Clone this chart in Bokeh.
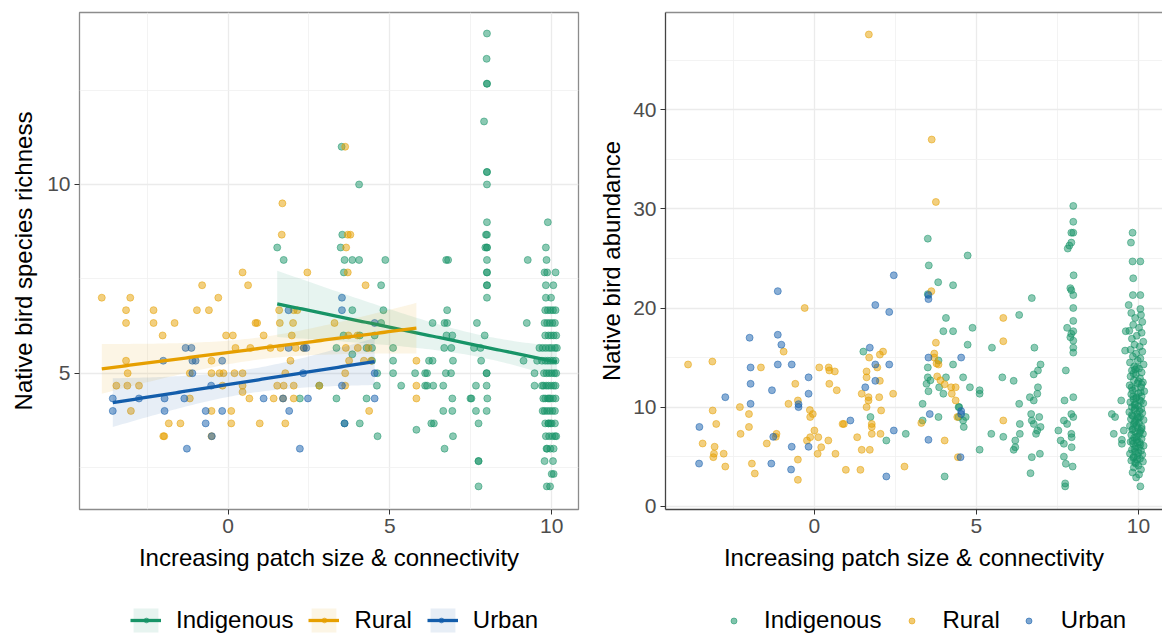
import numpy as np
from bokeh.plotting import figure
from bokeh.models import Legend, LegendItem, FixedTicker, LinearAxis, Range1d
from bokeh.layouts import row, column
from bokeh.embed import file_html
from bokeh.resources import INLINE

# ---------------- data ----------------
groups = ["Indigenous", "Rural", "Urban"]
colors = {"Indigenous": "#179467", "Rural": "#E69F00", "Urban": "#135DAB"}

x_ticks = [0, 5, 10]
x_minor = [-2.5, 2.5, 7.5]
rich_ticks = [5, 10]
rich_minor = [2.5, 7.5, 12.5]
abund_ticks = [0, 10, 20, 30, 40]
abund_minor = [5, 15, 25, 35, 45]

# Left panel: species richness
rich_ind_x = [4.05, 1.52, 1.72, 3.53, 3.48, 3.6, 3.84, 4.05, 4.86, 3.58, 4.73, 3.84, 4.8, 4.73, 3.57, 4.07, 4.53,
              3.35, 4.28, 4.45, 5.1, 3.84, 4.45, 5.1, 4.61, 5.1, 5.78, 6.09, 4.6, 5.35, 6.09, 2.22, 3.35, 4.28,
              2.82, 3.6, 4.07, 4.62, 5.82, 3.51, 6.74, 6.8, 9.26,
              8.0, 7.99, 8.0, 8.0, 7.91, 8.0, 8.0, 8.0, 8.0, 7.97, 8.0, 7.95, 8.0, 8.0, 8.0, 8.0, 8.0, 8.0, 8.0,
              8.0, 7.69, 7.93, 7.6, 7.8, 7.82, 7.99, 7.99, 7.66, 7.99, 7.52, 8.01, 7.66, 7.99, 7.74, 7.74, 7.74,
              7.74, 7.49,
              6.77, 6.32, 6.69, 6.77, 9.23, 6.75, 6.93, 6.68, 6.9, 6.21, 6.32, 6.95, 9.13, 6.15, 6.73, 6.89,
              9.47, 6.15, 6.34, 6.65, 9.47, 6.93, 6.65, 6.93, 6.28, 6.36, 6.95, 6.69,
              9.88, 9.82, 9.84, 9.78, 9.86, 10.12, 9.82, 10.05, 9.82, 9.98,
              9.8, 9.88, 9.96, 10.04, 10.12, 9.78, 9.86, 9.94, 10.02, 10.1, 9.8, 9.9, 9.98, 10.06, 10.14,
              9.62, 9.72, 9.82, 9.92, 10.0, 10.1, 10.16, 9.55, 9.7, 9.8, 9.88, 9.96, 10.04, 10.12,
              9.76, 9.84, 9.92, 10.0, 10.08, 10.14, 9.75, 9.83, 9.9, 9.98, 10.06, 10.12,
              9.8, 9.88, 9.96, 10.04, 10.12, 9.78, 9.86, 9.94, 10.02, 10.1, 9.8, 9.9, 10.0, 10.1,
              9.82, 9.92, 10.02, 10.1, 9.86, 9.96, 10.06, 10.04, 10.06, 9.85, 9.95,
              9.7, 9.74, 9.72, 9.9, 9.84, 10.14, 9.78, 10.0, 9.92, 9.96]
rich_ind_y = [10.0, 8.33, 8.0, 8.67, 8.33, 8.0, 8.0, 8.0, 8.0, 7.67, 7.33, 6.67, 6.67, 6.33, 6.0, 6.0, 6.0,
              5.67, 5.67, 5.67, 5.67, 5.5, 5.33, 5.33, 5.0, 5.0, 5.0, 5.0, 4.67, 4.67, 4.67, 4.33, 4.33, 4.33,
              4.67, 3.67, 3.67, 3.33, 3.5, 11.0, 8.0, 8.0, 8.0,
              14.0, 13.33, 12.67, 12.67, 11.67, 10.33, 10.33, 10.0, 9.0, 8.67, 8.67, 8.33, 8.33, 8.33, 8.0, 7.67,
              7.67, 7.33, 7.33, 7.0, 6.33, 6.0, 5.67, 5.67, 5.33, 5.0, 5.0, 4.67, 4.67, 4.33, 4.33, 4.0, 4.0,
              3.67, 2.67, 2.67, 2.0, 4.33,
              6.67, 6.33, 6.33, 6.33, 6.33, 6.0, 6.0, 5.67, 5.67, 5.33, 5.33, 5.33, 5.33, 5.0, 5.0, 5.0,
              5.0, 4.67, 4.67, 4.67, 4.67, 4.33, 4.0, 4.0, 3.67, 3.67, 3.33, 3.0,
              9.0, 8.33, 8.0, 7.67, 7.67, 7.67, 7.33, 7.33, 7.0, 7.0,
              6.67, 6.67, 6.67, 6.67, 6.67, 6.33, 6.33, 6.33, 6.33, 6.33, 6.0, 6.0, 6.0, 6.0, 6.0,
              5.67, 5.67, 5.67, 5.67, 5.67, 5.67, 5.67, 5.33, 5.33, 5.33, 5.33, 5.33, 5.33, 5.33,
              5.0, 5.0, 5.0, 5.0, 5.0, 5.0, 4.67, 4.67, 4.67, 4.67, 4.67, 4.67,
              4.33, 4.33, 4.33, 4.33, 4.33, 4.0, 4.0, 4.0, 4.0, 4.0, 3.67, 3.67, 3.67, 3.67,
              3.33, 3.33, 3.33, 3.33, 3.0, 3.0, 3.0, 2.67, 2.33, 2.0, 2.0,
              4.67, 4.33, 4.0, 3.67, 3.0, 3.33, 2.67, 2.33, 4.33, 3.67]

rich_rur_x = [-3.9, -3.02, -3.15, -3.15, -2.3, -2.3, -1.65, -2.02, -0.8, -0.96, -0.59, -0.3, 0.45, 0.62, -0.06,
              0.15, 0.23, 0.69, -3.15, -3.1, -3.45, -3.11, -2.75, -3.0, -1.18, -0.51, -0.51, -0.26, -0.14, 0.2,
              0.45, -0.17, 0.45, 0.45, 0.66, -1.18, -1.83, -1.47, -2.0, -1.97, -0.51, 0.1, 0.1, -0.51, 0.85,
              1.68, 1.66, 3.7, 3.78, 3.65, 3.7, 2.45, 4.25, 1.58, 2.03, 2.14, 0.9, 1.6, 2.01, 3.29, 1.1, 1.97,
              3.72, 4.0, 1.31, 1.62, 2.09, 2.34, 3.64, 4.01, 4.34, 1.93, 3.74, 4.2, 4.42, 5.82, 1.77, 3.62,
              1.52, 1.72, 2.03, 3.62, 5.82, 1.41, 1.7, 2.03, 5.82, 4.36, 0.98, 1.77, 3.62, 2.82]
rich_rur_y = [7.0, 7.0, 6.67, 6.33, 6.67, 6.33, 6.33, 6.0, 7.33, 6.67, 6.67, 7.0, 7.67, 7.33, 6.0,
              6.0, 5.67, 5.67, 5.33, 5.0, 4.67, 4.67, 4.67, 4.0, 5.0, 5.33, 5.0, 5.0, 5.0, 5.0,
              5.0, 4.67, 4.67, 4.5, 4.33, 4.33, 3.67, 3.67, 3.33, 3.33, 4.0, 4.0, 3.67, 3.33, 6.33,
              9.5, 8.67, 8.67, 8.67, 8.33, 7.67, 7.67, 7.33, 6.67, 6.67, 6.67, 6.33, 6.33, 6.33, 6.33, 6.0, 6.0,
              6.0, 6.0, 5.67, 5.67, 5.67, 5.67, 5.67, 5.67, 5.67, 5.33, 5.33, 5.33, 5.33, 5.33, 5.0, 5.0,
              4.67, 4.67, 4.67, 4.67, 4.67, 4.33, 4.33, 4.33, 4.33, 4.0, 3.67, 3.67, 11.0, 4.67]

rich_urb_x = [-1.31, -1.13, -2.0, -1.1, -1.0, -1.1, -0.18, -3.56, -3.56, -2.75, -1.96, -1.35, -0.52, -1.96,
              -0.69, -0.18, -0.69, -0.5, -1.27,
              3.52, 3.52, 1.87, 4.53, 1.87, 2.34, 2.42, 2.32, 4.53, 3.52, 1.1, 1.7, 2.47, 4.53, 1.89, 3.6, 2.22]
rich_urb_y = [5.67, 5.67, 5.33, 5.33, 5.33, 5.0, 5.33, 4.33, 4.0, 4.33, 4.33, 4.33, 4.67, 4.0,
              4.0, 4.0, 3.67, 3.33, 3.0,
              7.0, 6.67, 6.67, 6.33, 5.67, 5.67, 5.67, 5.0, 5.0, 4.67, 4.33, 4.33, 4.33, 4.33, 4.0, 3.67, 3.0]

# Right panel: abundance
abu_ind_x = [3.5, 4.73, 3.53, 3.82, 4.28, 3.5, 4.06, 3.98, 4.28, 4.88, 4.73, 5.48, 1.51, 3.83, 3.5, 4.28, 3.5,
             4.06, 4.59, 5.8, 3.46, 3.58, 3.85, 4.8, 5.1, 5.1, 3.52, 3.98, 3.34, 4.45, 4.47, 3.34, 3.83, 4.45,
             4.67, 4.59, 4.61, 1.73, 2.22, 2.82, 5.1, 5.46, 5.83, 4.02,
             7.99, 7.99, 7.93, 7.99, 7.93, 7.87, 7.82, 8.0, 7.9, 7.93, 7.99, 7.99, 7.99, 7.8, 7.99, 7.93, 7.9,
             7.99, 7.99, 7.99, 7.76, 7.72, 7.99, 7.93, 7.99, 7.7, 7.8, 7.93, 7.94, 7.94, 7.53, 7.6, 7.7, 7.7,
             7.76, 7.97, 7.74, 7.74,
             6.71, 6.32, 6.79, 6.98, 6.9, 6.77, 6.15, 6.9, 6.88, 6.65, 6.77, 6.32, 6.69, 6.94, 6.71, 6.77,
             6.98, 6.88, 6.84, 6.34, 6.34, 6.2, 6.2, 6.15, 6.96, 6.71, 6.67,
             9.18, 9.28, 9.47, 9.61, 9.59, 9.24, 9.49, 9.49, 9.55,
             9.82, 9.77, 9.82, 10.06, 9.84, 9.83, 10.06, 9.7, 10.06,
             9.78, 10.08, 9.9, 10.12, 9.84, 10.02, 9.72, 10.1, 9.95, 9.8, 10.15, 9.88, 10.04, 9.76, 10.12, 9.93,
             9.83, 10.06, 9.98, 9.74, 10.16, 9.87, 10.02, 9.8, 10.1, 9.92, 9.76, 10.05, 9.86, 10.14, 9.97, 9.73,
             10.08, 9.9, 9.82, 10.18, 10.0, 9.78, 10.1, 9.94, 9.85, 10.04, 9.75, 10.15, 9.9, 10.0, 9.8, 10.09,
             9.88, 9.72, 10.12, 9.96, 9.83, 10.05, 9.77, 10.16, 9.92, 10.02, 9.86, 9.74, 10.1, 9.98, 9.81,
             10.06, 9.9, 10.14, 9.78, 10.0, 9.87, 10.1, 9.95, 9.76, 10.04, 9.84, 10.16, 9.92, 10.02, 9.8, 10.08,
             9.9, 9.74, 10.12, 9.97, 9.84, 10.05, 9.78, 10.14, 9.92, 10.0, 9.86, 10.08, 9.82, 10.02, 9.93, 10.06,
             9.95, 9.85, 10.0, 9.79, 10.07, 9.93, 9.88, 10.03, 9.8, 10.0, 9.95, 9.83, 10.04, 9.93, 9.82, 10.06,
             9.88, 10.0, 9.86, 9.96, 9.9, 10.1, 9.84, 10.08, 9.9, 9.97, 9.88, 10.1, 9.97, 9.9]
abu_ind_y = [27.0, 25.3, 24.3, 22.6, 22.3, 21.4, 19.0, 17.66, 17.66, 18.0, 16.3, 16.0, 15.6, 14.7, 14.0, 14.3, 13.0,
             13.0, 13.0, 13.0, 12.35, 12.7, 12.0, 12.0, 11.7, 11.35, 11.6, 11.35, 10.33, 10.0, 10.0, 8.65, 9.0, 9.0,
             9.0, 8.65, 8.0, 9.0, 6.63, 7.3, 5.7, 7.3, 7.0, 3.0,
             30.3, 28.7, 27.6, 27.6, 26.6, 26.3, 26.0, 23.3, 22.0, 21.8, 21.3, 20.0, 18.7, 18.0, 17.66, 17.4, 17.05,
             16.7, 16.0, 15.5, 13.7, 10.67, 11.0, 9.3, 9.0, 8.65, 8.3, 7.3, 6.96, 5.95, 7.64, 6.63, 6.3, 5.0,
             4.28, 4.0, 2.3, 2.0,
             21.0, 19.3, 16.0, 14.3, 13.7, 13.3, 12.65, 12.0, 11.35, 11.0, 10.67, 10.33, 9.3, 9.0, 8.65, 8.3,
             8.0, 7.64, 7.3, 8.3, 7.3, 6.63, 5.95, 5.69, 5.29, 4.95, 3.33,
             9.3, 9.0, 10.67, 17.66, 15.7, 7.3, 6.7, 6.3, 7.64,
             27.6, 26.6, 24.7, 24.7, 23.0, 21.3, 21.3, 20.3, 19.9,
             19.5, 19.3, 19.0, 18.6, 18.3, 18.0, 17.7, 17.5, 17.2, 16.9, 16.6, 16.3, 16.1, 15.8, 15.6, 15.4,
             15.1, 14.9, 14.7, 14.5, 14.3, 14.1, 13.9, 13.7, 13.5, 13.3, 13.1, 12.9, 12.7, 12.5, 12.4, 12.2,
             12.0, 11.9, 11.7, 11.6, 11.4, 11.3, 11.1, 11.0, 10.8, 10.7, 10.5, 10.4, 10.3, 10.1, 10.0, 9.8,
             9.7, 9.5, 9.4, 9.3, 9.1, 9.0, 8.8, 8.7, 8.6, 8.4, 8.3, 8.1, 8.0, 7.9, 7.7,
             7.6, 7.5, 7.3, 7.2, 7.1, 6.9, 6.8, 6.7, 6.5, 6.4, 6.3, 6.1, 6.0, 5.9, 5.7, 5.6,
             5.5, 5.3, 5.2, 5.1, 4.9, 4.8, 4.6, 4.5, 4.3, 4.1, 3.9, 3.7, 3.4, 3.2, 2.9, 2.0,
             14.0, 13.4, 12.6, 12.0, 11.5, 10.9, 10.2, 9.6, 9.2, 8.9, 8.2, 7.8, 7.4, 7.0, 6.6, 6.2,
             5.8, 5.4, 5.0, 4.7, 13.8, 12.3, 11.1, 10.6, 9.9, 9.0, 8.5, 7.8, 6.4, 4.4]

abu_rur_x = [1.68, 3.62, 3.75, 3.61, 3.75, -0.3, -0.95, -3.9, -3.15, -1.65, 0.15, 0.44, 0.46, 0.63, -0.59, 0.46,
             0.69, -0.8, -0.51, -3.14, -2.3, -2.02, -0.14, -0.05, -0.13, -3.03, -2.02, -2.28, 0.87, -3.45, -3.08,
             -3.1, -3.12, -2.8, -2.75, -1.93, -1.84, -1.47, -1.17, -1.19, -0.51, -0.51, -0.23, -0.13, 0.0, 0.12,
             0.43, 0.21, 0.1, 0.65,
             2.12, 2.02, 1.69, 1.94, 1.61, 1.61, 2.02, 1.46, 1.67, 1.67, 1.61, 2.0, 2.43, 2.06, 0.91, 1.77, 1.77,
             1.77, 2.04, 1.32, 1.46, 1.71, 0.97, 1.42, 2.78, 3.7, 3.77, 3.83, 3.7, 3.79, 3.89, 4.02, 4.22, 4.36,
             4.24, 4.36, 4.41, 4.43, 3.3, 4.02, 5.83, 5.83, 5.83]
abu_rur_y = [47.6, 37.0, 30.7, 21.7, 16.5, 20.0, 15.6, 14.3, 14.6, 14.0, 14.0, 14.0, 13.7, 13.6, 12.35, 12.35,
             11.7, 10.33, 10.67, 9.66, 10.0, 9.3, 9.7, 9.3, 9.0, 8.3, 8.0, 7.3, 8.3, 6.33, 6.0,
             5.3, 4.95, 5.3, 4.0, 4.3, 3.3, 6.33, 7.3, 7.0, 4.7, 2.66, 6.63, 6.96, 7.64, 6.96,
             6.63, 5.95, 5.29, 5.29,
             15.6, 15.3, 15.0, 14.0, 13.6, 13.0, 12.65, 11.35, 11.0, 10.67, 10.0, 11.0, 11.35, 9.66, 8.3, 8.3, 8.0,
             7.3, 7.3, 6.96, 5.69, 5.69, 3.67, 3.67, 4.0, 15.4, 14.4, 14.3, 15.0, 13.1, 12.7, 12.3, 12.0, 12.0,
             11.35, 10.67, 9.0, 4.95, 8.4, 6.63, 19.0, 16.65, 8.65]

abu_urb_x = [-1.13, -2.0, -1.13, -1.02, -1.97, -1.13, -0.7, -1.97, -1.31, -0.18, -0.18, -2.75, -1.97, -0.49, -0.49,
             -3.55, -1.27, -0.7, -0.18, -3.56, -1.33, -0.72,
             2.45, 1.88, 2.31, 3.52, 3.52, 1.71, 1.88, 2.31, 1.88, 1.57, 3.52, 4.53, 1.11, 2.45, 3.56, 3.52, 4.53,
             4.53, 4.51, 2.22]
abu_urb_y = [21.7, 17.0, 17.3, 16.3, 14.0, 14.3, 14.3, 12.35, 11.7, 13.0, 11.35, 11.0, 10.33, 10.3, 10.0,
             8.0, 7.0, 6.0, 6.0, 4.3, 4.3, 3.7,
             23.3, 20.3, 19.6, 21.3, 20.9, 16.0, 14.3, 14.3, 12.65, 12.0, 15.0, 15.0, 8.65, 7.64, 9.3, 6.7, 9.3,
             9.6, 4.95, 3.0]

FONT = "Liberation Sans"


def lm_band(x, y, n=80):
    x = np.asarray(x, float)
    y = np.asarray(y, float)
    b, a = np.polyfit(x, y, 1)
    xs = np.linspace(x.min(), x.max(), n)
    fit = a + b * xs
    resid = y - (a + b * x)
    s = np.sqrt(np.sum(resid ** 2) / (len(x) - 2))
    se = s * np.sqrt(1 / len(x) + (xs - x.mean()) ** 2 / np.sum((x - x.mean()) ** 2))
    return xs, fit, fit - 1.97 * se, fit + 1.97 * se


def style(p, yticks, yminor, ytitle, ystandoff):
    p.xaxis.ticker = FixedTicker(ticks=x_ticks, minor_ticks=x_minor)
    p.yaxis.ticker = FixedTicker(ticks=yticks, minor_ticks=yminor)
    for ax in (p.xaxis[0], p.yaxis[0]):
        ax.major_label_text_font = FONT
        ax.major_label_text_font_size = "21px"
        ax.major_label_text_color = "#4D4D4D"
        ax.axis_label_text_font = FONT
        ax.axis_label_text_font_size = "24px"
        ax.axis_label_text_font_style = "normal"
        ax.axis_label_text_color = "#000000"
        ax.major_tick_in = 0
        ax.major_tick_out = 5
        ax.major_tick_line_color = "#333333"
        ax.minor_tick_line_color = None
        ax.major_label_standoff = 4
    p.xaxis.axis_label_standoff = 8
    p.yaxis.axis_label_standoff = ystandoff
    p.xaxis.axis_label = "Increasing patch size & connectivity"
    p.yaxis.axis_label = ytitle
    for g in (p.xgrid[0], p.ygrid[0]):
        g.grid_line_color = "#EBEBEB"
        g.grid_line_width = 1.3
        g.minor_grid_line_color = "#F0F0F0"
        g.minor_grid_line_width = 0.8


rich = {"Indigenous": (rich_ind_x, rich_ind_y), "Rural": (rich_rur_x, rich_rur_y), "Urban": (rich_urb_x, rich_urb_y)}
abund = {"Indigenous": (abu_ind_x, abu_ind_y), "Rural": (abu_rur_x, abu_rur_y), "Urban": (abu_urb_x, abu_urb_y)}
bands = {g: lm_band(*rich[g]) for g in groups}

KEY_W = 31
STANDOFF = 15
SPACING = 15
LABEL_W = {"Indigenous": 117.4, "Rural": 56.0, "Urban": 65.4}


def legend_fig(width, with_band, data, x0, dot_box):
    # legend-only strip: its renderers hold real data, but the view range keeps them out of sight
    lf = figure(width=width, height=62, min_border=0, x_range=Range1d(0, 1), y_range=Range1d(-1001, -1000),
                x_axis_type=None, y_axis_type=None, output_backend="svg", toolbar_location=None,
                outline_line_color=None)
    lf.xgrid.visible = False
    lf.ygrid.visible = False
    items = []
    kx = x0
    for g in groups:
        x, y = data[g]
        if with_band:
            xs, fit, lo, hi = bands[g]
            rs = [lf.varea(x=xs, y1=lo, y2=hi, fill_color=colors[g], fill_alpha=0.1),
                  lf.line(xs, fit, line_color=colors[g], line_width=3.3)]
        else:
            rs = [lf.scatter(x, y, size=7, fill_alpha=0, line_alpha=0)]
        items.append(LegendItem(label=g, renderers=rs))
        # small point key centred on the key box
        dot = lf.scatter(x, y, size=7, fill_color=colors[g], fill_alpha=0.55, line_color=colors[g], line_alpha=0.55)
        cx = kx + KEY_W / 2
        dleg = Legend(items=[LegendItem(label=" ", renderers=[dot])], location=(cx - dot_box / 2, 15 - dot_box / 2),
                      border_line_color=None, background_fill_alpha=0, padding=0, margin=0,
                      glyph_width=dot_box, glyph_height=dot_box, label_height=dot_box, label_width=0,
                      label_standoff=0, label_text_font_size="1px")
        lf.add_layout(dleg, "center")
        kx += KEY_W + STANDOFF + LABEL_W[g] + SPACING
    leg = Legend(items=items, orientation="horizontal", location=(x0, 0),
                 border_line_color=None, background_fill_alpha=0, padding=0, margin=0,
                 spacing=SPACING, label_standoff=STANDOFF, glyph_width=KEY_W, glyph_height=30, label_height=30,
                 label_text_font=FONT, label_text_font_size="24px", label_text_color="#000000")
    lf.center.insert(0, leg)
    return lf


# ---------------- left panel ----------------
p1 = figure(frame_width=499, frame_height=497, min_border_left=79, min_border_right=15,
            min_border_top=12, min_border_bottom=64,
            x_range=Range1d(-4.588, 10.828), y_range=Range1d(1.388, 14.557),
            output_backend="svg", toolbar_location=None, background_fill_color="white")
style(p1, rich_ticks, rich_minor, "Native bird species richness", 7)
p1.outline_line_color = "#8C8C8C"
p1.outline_line_width = 1.3
p1.xaxis.axis_line_color = None
p1.yaxis.axis_line_color = None

for g in groups:
    x, y = rich[g]
    p1.scatter(x, y, size=7, fill_color=colors[g], fill_alpha=0.5, line_color=colors[g], line_alpha=0.5)
for g in groups:
    xs, fit, lo, hi = bands[g]
    p1.varea(x=xs, y1=lo, y2=hi, fill_color=colors[g], fill_alpha=0.1)
    p1.line(xs, fit, line_color=colors[g], line_width=3.3)

# ---------------- right panel ----------------
p2 = figure(frame_width=497, frame_height=497, min_border_left=72, min_border_right=0,
            min_border_top=12, min_border_bottom=64,
            x_range=Range1d(-4.596, 10.744), y_range=Range1d(-0.333, 49.82),
            output_backend="svg", toolbar_location=None, background_fill_color="white")
style(p2, abund_ticks, abund_minor, "Native bird abundance", 5)
p2.outline_line_color = None
p2.xaxis.axis_line_color = "#444444"
p2.yaxis.axis_line_color = "#444444"
p2.xaxis.axis_line_width = 1.3
p2.yaxis.axis_line_width = 1.3
top_ax = LinearAxis(ticker=FixedTicker(ticks=[]), major_label_text_font_size="0px",
                    major_tick_line_color=None, minor_tick_line_color=None,
                    axis_line_color="#8C8C8C", axis_line_width=1.3,
                    major_label_standoff=0, major_tick_out=0, major_tick_in=0)
p2.add_layout(top_ax, "above")

for g in groups:
    x, y = abund[g]
    p2.scatter(x, y, size=7, fill_color=colors[g], fill_alpha=0.5, line_color=colors[g], line_alpha=0.5)

# ---------------- legends ----------------
l1 = legend_fig(593, True, rich, 130, 12)
l2 = legend_fig(569, False, abund, 125, 15)

layout = column(row(p1, p2, spacing=0), row(l1, l2, spacing=0), spacing=0)
open("out.html", "w").write(file_html(layout, INLINE))
